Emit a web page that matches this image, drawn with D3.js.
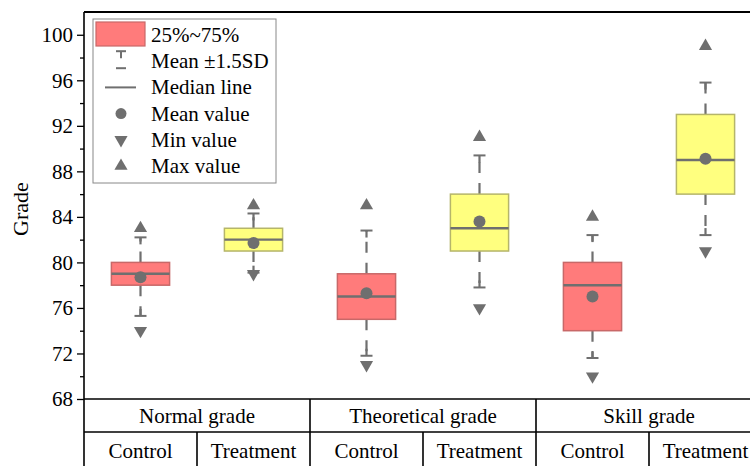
<!DOCTYPE html>
<meta charset="utf-8">
<style>
body{margin:0;background:#fff;}
text{font-family:'Liberation Serif','Times New Roman',serif;fill:#000;}
</style>
<svg id="svg" width="750" height="466"></svg>
<script src="https://d3js.org/d3.v7.min.js"></script>
<script>
// data
var groups = ['Normal grade', 'Theoretical grade', 'Skill grade']
var arms = ['Control', 'Treatment']
var q1 = [78, 81, 75, 81, 74, 86]
var median = [79, 82, 77, 83, 78, 89]
var q3 = [80, 83, 79, 86, 80, 93]
var mean = [78.7, 81.7, 77.3, 83.6, 77.0, 89.1]
var sdLow = [75.3, 79.1, 71.8, 77.8, 71.6, 82.4]
var sdHigh = [82.2, 84.3, 82.8, 89.4, 82.4, 95.8]
var minv = [74, 79, 71, 76, 70, 81]
var maxv = [83, 85, 85, 91, 84, 99]
var majorTicks = [68, 72, 76, 80, 84, 88, 92, 96, 100]
var legendItems = ['25%~75%', 'Mean \u00b11.5SD', 'Median line', 'Mean value', 'Min value', 'Max value']

var pLeft = 84, pRight = 762, pTop = 12, pBottom = 399
var grey = '#6f6f6f'
var fills = ['#ff7b7b', '#ffff7f'], edges = ['#c86868', '#b5b56a']

var svg = d3.select('#svg')

var cols = d3.range(6)
var x = d3.scaleBand().domain(cols).range([pLeft, pRight]).padding(0)
var y = d3.scaleLinear().domain([68, 102]).range([pBottom, pTop])
var bw = x.bandwidth() * 0.515

// axis
svg.append('g').attr('transform', 'translate(' + pLeft + ',0)')
  .call(d3.axisLeft(y).tickValues(d3.range(70, 100, 4)).tickSize(4).tickFormat(''))
  .call(g => g.select('.domain').remove())
var ax2 = svg.append('g').attr('transform', 'translate(' + pLeft + ',0)')
  .call(d3.axisLeft(y).tickValues(majorTicks).tickSize(7).tickPadding(4))
ax2.select('.domain').remove()
svg.selectAll('.tick line').attr('stroke', '#000').attr('stroke-width', 1.3)
ax2.attr('font-family', null).attr('font-size', null)
ax2.selectAll('text').style('font-size', '21px')

svg.append('text')
  .attr('transform', 'translate(28,209) rotate(-90)')
  .attr('text-anchor', 'middle')
  .style('font-size', '22px')
  .text('Grade')

// frame + table lines
var frame = svg.append('g').attr('stroke', '#000').attr('stroke-width', 1.6)
frame.append('line').attr('x1', pLeft).attr('x2', pLeft).attr('y1', pTop).attr('y2', 466)
frame.append('line').attr('x1', pLeft).attr('x2', pRight).attr('y1', pTop).attr('y2', pTop).attr('stroke-width', 2)
frame.append('line').attr('x1', pLeft).attr('x2', pRight).attr('y1', pBottom).attr('y2', pBottom)
frame.append('line').attr('x1', pLeft).attr('x2', pRight).attr('y1', 432).attr('y2', 432)
frame.append('line').attr('x1', pRight).attr('x2', pRight).attr('y1', pTop).attr('y2', 466)
groups.forEach((g, i) => {
  if (i > 0) frame.append('line').attr('x1', x(i * 2)).attr('x2', x(i * 2)).attr('y1', pBottom).attr('y2', 466)
  frame.append('line').attr('x1', x(i * 2 + 1)).attr('x2', x(i * 2 + 1)).attr('y1', 432).attr('y2', 466)
  svg.append('text').attr('x', x(i * 2) + x.bandwidth()).attr('y', 423)
    .attr('text-anchor', 'middle').style('font-size', '21px').text(g)
})
cols.forEach(c => {
  svg.append('text').attr('x', x(c) + x.bandwidth() / 2).attr('y', 458)
    .attr('text-anchor', 'middle').style('font-size', '21px').text(arms[c % 2])
})

// boxes
var tri = d3.symbol().type(d3.symbolTriangle).size(75)
cols.forEach(c => {
  var cx = x(c) + x.bandwidth() / 2
  var g = svg.append('g')
  // whiskers (dashed, from the box outwards)
  g.append('line').attr('x1', cx).attr('x2', cx).attr('y1', y(q3[c])).attr('y2', y(sdHigh[c]))
    .attr('stroke', grey).attr('stroke-width', 2.2).attr('stroke-dasharray', '11,10')
  g.append('line').attr('x1', cx).attr('x2', cx).attr('y1', y(q1[c])).attr('y2', y(sdLow[c]))
    .attr('stroke', grey).attr('stroke-width', 2.2).attr('stroke-dasharray', '11,10')
  // caps
  g.append('line').attr('x1', cx - 6).attr('x2', cx + 6).attr('y1', y(sdHigh[c])).attr('y2', y(sdHigh[c]))
    .attr('stroke', grey).attr('stroke-width', 2)
  g.append('line').attr('x1', cx).attr('x2', cx).attr('y1', y(sdHigh[c])).attr('y2', y(sdHigh[c]) + 7)
    .attr('stroke', grey).attr('stroke-width', 2.2)
  g.append('line').attr('x1', cx - 6).attr('x2', cx + 6).attr('y1', y(sdLow[c])).attr('y2', y(sdLow[c]))
    .attr('stroke', grey).attr('stroke-width', 2)
  g.append('line').attr('x1', cx).attr('x2', cx).attr('y1', y(sdLow[c])).attr('y2', y(sdLow[c]) - 7)
    .attr('stroke', grey).attr('stroke-width', 2.2)
  // box
  g.append('rect').attr('x', cx - bw / 2).attr('width', bw)
    .attr('y', y(q3[c])).attr('height', y(q1[c]) - y(q3[c]))
    .attr('fill', fills[c % 2]).attr('stroke', edges[c % 2]).attr('stroke-width', 1.5)
  g.append('line').attr('x1', cx - bw / 2).attr('x2', cx + bw / 2)
    .attr('y1', y(median[c])).attr('y2', y(median[c]))
    .attr('stroke', grey).attr('stroke-width', 2.4)
  g.append('circle').attr('cx', cx).attr('cy', y(mean[c])).attr('r', 6).attr('fill', grey)
  g.append('path').attr('d', tri).attr('fill', grey)
    .attr('transform', 'translate(' + cx + ',' + y(maxv[c]) + ')')
  g.append('path').attr('d', tri).attr('fill', grey)
    .attr('transform', 'translate(' + cx + ',' + y(minv[c]) + ') rotate(180)')
})

// legend
var lg = svg.append('g')
lg.append('rect').attr('x', 93).attr('y', 19).attr('width', 183).attr('height', 164)
  .attr('fill', '#fff').attr('stroke', '#888').attr('stroke-width', 1)
var ly = d3.scalePoint().domain(legendItems).range([35, 166])
legendItems.forEach(t => {
  lg.append('text').attr('x', 151).attr('y', ly(t) + 7).style('font-size', '21px').text(t)
})
var lx = 121
lg.append('rect').attr('x', 96).attr('y', 22).attr('width', 49).attr('height', 24)
  .attr('fill', fills[0]).attr('stroke', edges[0]).attr('stroke-width', 1.2)
var sy = ly(legendItems[1])
lg.append('line').attr('x1', lx - 5).attr('x2', lx + 5).attr('y1', sy - 10).attr('y2', sy - 10).attr('stroke', grey).attr('stroke-width', 2)
lg.append('line').attr('x1', lx).attr('x2', lx).attr('y1', sy - 10).attr('y2', sy - 3).attr('stroke', grey).attr('stroke-width', 2)
lg.append('line').attr('x1', lx - 5).attr('x2', lx + 5).attr('y1', sy + 7).attr('y2', sy + 7).attr('stroke', grey).attr('stroke-width', 2)
var my = ly(legendItems[2])
lg.append('line').attr('x1', 105).attr('x2', 136).attr('y1', my).attr('y2', my).attr('stroke', grey).attr('stroke-width', 2)
lg.append('circle').attr('cx', lx).attr('cy', ly(legendItems[3])).attr('r', 5.5).attr('fill', grey)
lg.append('path').attr('d', tri).attr('fill', grey)
  .attr('transform', 'translate(' + lx + ',' + ly(legendItems[4]) + ') rotate(180)')
lg.append('path').attr('d', tri).attr('fill', grey)
  .attr('transform', 'translate(' + lx + ',' + ly(legendItems[5]) + ')')
</script>
